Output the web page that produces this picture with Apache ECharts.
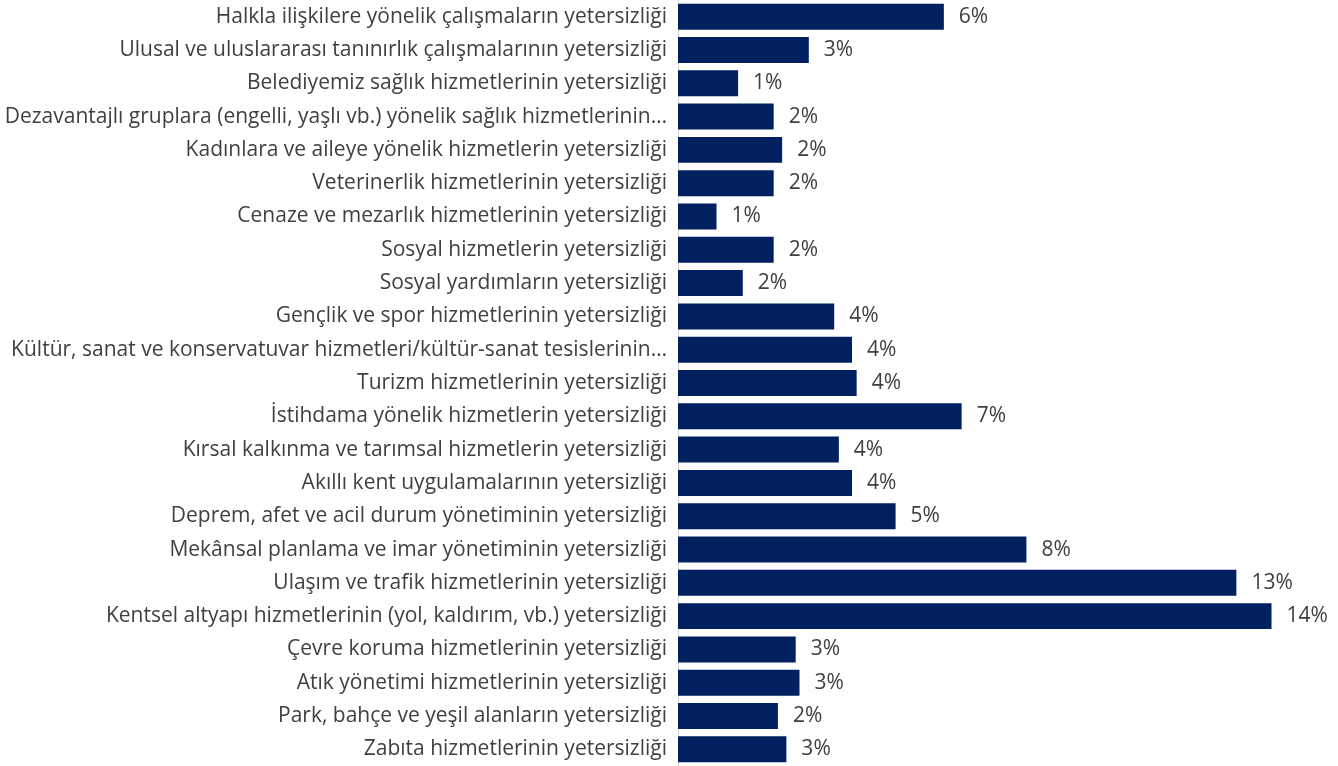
<!DOCTYPE html>
<html>
<head>
<meta charset="utf-8">
<script src="https://cdn.jsdelivr.net/npm/echarts@6/dist/echarts.min.js"></script>
<style>
  html, body { margin: 0; padding: 0; background: #fff; }
  #chart { width: 1338px; height: 766px; }
</style>
</head>
<body>
<div id="chart"></div>
<script>
// kategoriler (yukaridan asagiya)
var categories = [
  'Halkla ilişkilere yönelik çalışmaların yetersizliği',
  'Ulusal ve uluslararası tanınırlık çalışmalarının yetersizliği',
  'Belediyemiz sağlık hizmetlerinin yetersizliği',
  'Dezavantajlı gruplara (engelli, yaşlı vb.) yönelik sağlık hizmetlerinin…',
  'Kadınlara ve aileye yönelik hizmetlerin yetersizliği',
  'Veterinerlik hizmetlerinin yetersizliği',
  'Cenaze ve mezarlık hizmetlerinin yetersizliği',
  'Sosyal hizmetlerin yetersizliği',
  'Sosyal yardımların yetersizliği',
  'Gençlik ve spor hizmetlerinin yetersizliği',
  'Kültür, sanat ve konservatuvar hizmetleri/kültür-sanat tesislerinin…',
  'Turizm hizmetlerinin yetersizliği',
  'İstihdama yönelik hizmetlerin yetersizliği',
  'Kırsal kalkınma ve tarımsal hizmetlerin yetersizliği',
  'Akıllı kent uygulamalarının yetersizliği',
  'Deprem, afet ve acil durum yönetiminin yetersizliği',
  'Mekânsal planlama ve imar yönetiminin yetersizliği',
  'Ulaşım ve trafik hizmetlerinin yetersizliği',
  'Kentsel altyapı hizmetlerinin (yol, kaldırım, vb.) yetersizliği',
  'Çevre koruma hizmetlerinin yetersizliği',
  'Atık yönetimi hizmetlerinin yetersizliği',
  'Park, bahçe ve yeşil alanların yetersizliği',
  'Zabıta hizmetlerinin yetersizliği'
]

// yuzde degerleri
var values = [6.28, 3.09, 1.42, 2.26, 2.46, 2.26, 0.91, 2.26, 1.53, 3.69, 4.11, 4.22,
  6.70, 3.80, 4.11, 5.14, 8.23, 13.19, 14.02, 2.78, 2.87, 2.36, 2.56]

var myChart = echarts.init(document.getElementById('chart'))
var option = {
  animation: false,
  grid: {
    left: 678,
    right: 25,
    top: 0,
    bottom: -3
  },
  xAxis: {
    type: 'value',
    min: 0,
    max: 15,
    show: false
  },
  yAxis: {
    type: 'category',
    inverse: true,
    data: categories,
    axisTick: { show: false },
    axisLine: { lineStyle: { color: '#d9d9d9', width: 1 } },
    axisLabel: {
      color: '#404040',
      fontFamily: 'Open Sans',
      fontSize: 21,
      margin: 11
    }
  },
  series: [
    {
      type: 'bar',
      data: values,
      barCategoryGap: '22%',
      itemStyle: { color: '#002060' },
      label: {
        show: true,
        position: 'right',
        distance: 15,
        color: '#404040',
        fontFamily: 'Open Sans',
        fontSize: 21,
        formatter: function (p) {
          return Math.round(p.value) + '%'
        }
      }
    }
  ]
}
myChart.setOption(option)
</script>
</body>
</html>
